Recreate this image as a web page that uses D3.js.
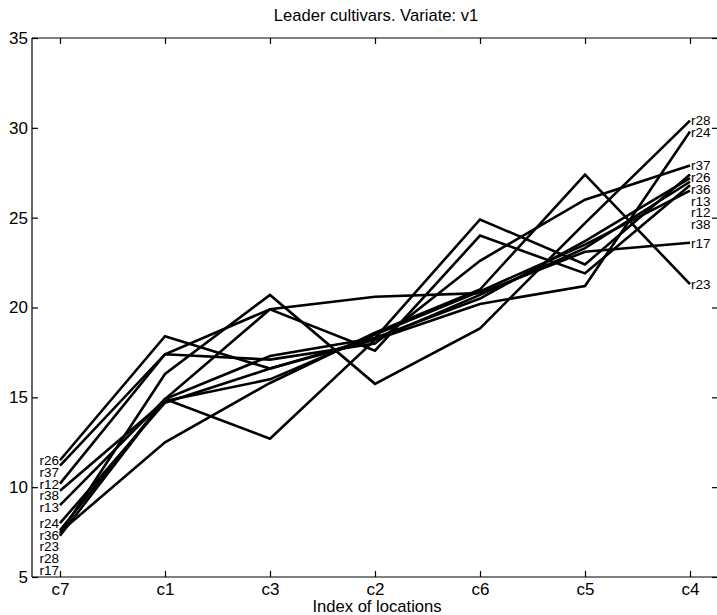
<!DOCTYPE html>
<html><head><meta charset="utf-8">
<script src="https://cdn.jsdelivr.net/npm/d3@7"></script>
<style>
body{margin:0;background:#fff;}
text{font-family:"Liberation Sans",Arial,Helvetica,sans-serif;fill:#000;}
</style></head>
<body><svg id="chart" width="717" height="615"></svg>
<script>
const title = "Leader cultivars. Variate: v1";
const xTitle = "Index of locations";
const categories = ["c7","c1","c3","c2","c6","c5","c4"];
const yTicks = [5,10,15,20,25,30,35];
const seriesNames = ["r26","r37","r12","r38","r13","r24","r36","r23","r28","r17"];
const r26 = [11.5, 18.4, 16.6, 18.3, 24.9, 22.4, 27.4];
const r37 = [11.2, 17.4, 17.1, 18.0, 22.6, 26.0, 27.9];
const r12 = [10.2, 17.4, 19.9, 17.6, 24.0, 21.9, 26.8];
const r38 = [9.8, 14.8, 16.0, 18.5, 20.9, 23.5, 26.5];
const r13 = [9.0, 14.9, 12.7, 18.2, 20.7, 23.3, 27.0];
const r24 = [8.0, 14.7, 16.6, 18.2, 20.2, 21.2, 29.8];
const r36 = [7.6, 14.9, 17.3, 18.3, 20.5, 23.7, 27.2];
const r23 = [7.5, 12.5, 15.8, 18.6, 21.0, 27.4, 21.3];
const r28 = [7.4, 16.3, 20.7, 15.75, 18.84, 24.7, 30.4];
const r17 = [7.3, 14.9, 19.9, 20.6, 20.8, 23.1, 23.6];
const seriesValues = [r26,r37,r12,r38,r13,r24,r36,r23,r28,r17];

const svg = d3.select("#chart");
const L = 32, R = 718, T = 38, B = 577;
const x = d3.scalePoint().domain(categories).range([60, 690]);
const y = d3.scaleLinear().domain([5,35]).range([B, T]);

// title
svg.append("text").attr("x",376).attr("y",21).attr("text-anchor","middle")
  .style("font-size","16.6px").text(title);

// box
const g = svg.append("g");
g.append("line").attr("x1",L).attr("x2",R).attr("y1",T).attr("y2",T).attr("stroke","#000").attr("stroke-width",1.2);
g.append("line").attr("x1",L).attr("x2",R).attr("y1",B).attr("y2",B).attr("stroke","#000").attr("stroke-width",1.2);
g.append("line").attr("x1",L).attr("x2",L).attr("y1",T).attr("y2",B).attr("stroke","#000").attr("stroke-width",1.2);
g.append("line").attr("x1",R).attr("x2",R).attr("y1",T).attr("y2",B).attr("stroke","#000").attr("stroke-width",1.2);

// axes
const tk = 6;
const yAxisL = d3.axisLeft(y).tickValues(yTicks).tickSize(-tk).tickPadding(4).tickFormat(d3.format("d"));
const gy = svg.append("g").attr("transform",`translate(${L},0)`).call(yAxisL);
const yAxisR = d3.axisRight(y).tickValues(yTicks).tickSize(-tk).tickFormat("");
const gyr = svg.append("g").attr("transform",`translate(${R},0)`).call(yAxisR);
const xAxisB = d3.axisBottom(x).tickSize(-tk).tickPadding(6);
const gx = svg.append("g").attr("transform",`translate(0,${B})`).call(xAxisB);
const xAxisT = d3.axisTop(x).tickSize(-tk).tickFormat("");
const gxt = svg.append("g").attr("transform",`translate(0,${T})`).call(xAxisT);
[gy,gyr,gx,gxt].forEach(a=>{a.select(".domain").remove(); a.selectAll("line").attr("stroke","#000").attr("stroke-width",1.2);});
gy.selectAll("text").style("font-size","17px").attr("font-family",null);
gx.selectAll("text").style("font-size","17px").attr("font-family",null);

svg.append("text").attr("x",377).attr("y",612).attr("text-anchor","middle")
  .style("font-size","16.6px").text(xTitle);

// lines
const line = d3.line().x((d,i)=>x(categories[i])).y(d=>y(d));
svg.append("g").selectAll("path").data(seriesValues).join("path")
  .attr("d",line).attr("fill","none").attr("stroke","#000").attr("stroke-width",2.6)
  .attr("stroke-linejoin","miter");

// labels with spreading
function spread(idx){
  const items = seriesNames.map((n,k)=>({n, py:y(seriesValues[k][idx])}));
  items.sort((a,b)=>a.py-b.py);
  let prev = -1e9;
  items.forEach(it=>{ it.ly = Math.max(it.py, prev + 11.8); prev = it.ly; });
  return items;
}
const left = spread(0), right = spread(categories.length-1);
svg.append("g").selectAll("text").data(left).join("text")
  .attr("x", x(categories[0]) - 1).attr("y", d=>d.ly).attr("dy","0.35em")
  .attr("text-anchor","end").style("font-size","13.5px").text(d=>d.n);
svg.append("g").selectAll("text").data(right).join("text")
  .attr("x", x(categories[categories.length-1]) + 1).attr("y", d=>d.ly).attr("dy","0.35em")
  .attr("text-anchor","start").style("font-size","13.5px").text(d=>d.n);
</script></body></html>
